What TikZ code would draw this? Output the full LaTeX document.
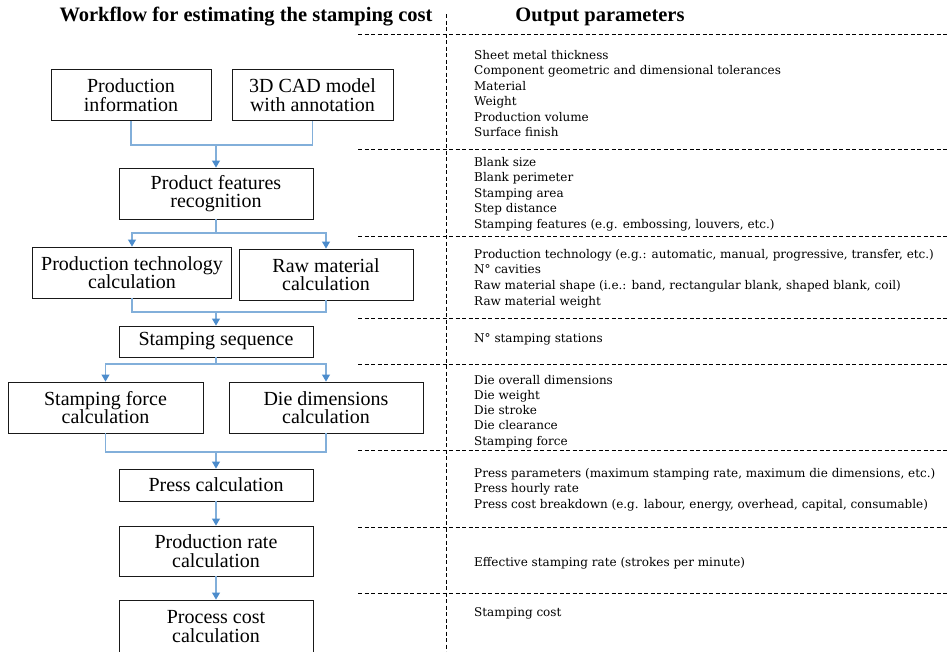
\documentclass[tikz,border=0pt]{standalone}
\usepackage{fontspec}
\setmainfont{Liberation Serif}
\newfontfamily\paramfamily{DejaVu Serif}
\usepackage{xcolor}
\definecolor{linkblue}{RGB}{130, 175, 218}
\definecolor{arrowblue}{RGB}{76, 140, 204}
\usetikzlibrary{arrows.meta, positioning, calc}
\newcommand\boxfont{\fontsize{20}{18.5}\selectfont}
\newcommand\paramfont{\paramfamily\fontsize{12}{15}\selectfont}
\newcommand\headfont{\bfseries\fontsize{20.5}{21}\selectfont}
\tikzset{
    procbox/.style={draw=black!90, line width=0.9pt, align=center, font=\boxfont,
        inner sep=0pt, minimum height=51pt},
    link/.style={draw=linkblue, line width=1.1pt},
    flow/.style={link, -{Triangle[length=7pt, width=8pt, color=arrowblue]}},
    sepline/.style={draw=black, line width=0.7pt, dash pattern=on 4pt off 2.5pt},
    param/.style={font=\paramfont, anchor=base west, inner sep=0pt, text=black}
}

\begin{document}
\begin{tikzpicture}[x=1pt, y=-1pt]
    \clip (0,0) rectangle (948,651);
    \fill[white] (0,0) rectangle (948,651);

    % Headings
    \node[font=\headfont, anchor=base] (wftitle) at (246,21) {Workflow for estimating the stamping cost};
    \node[font=\headfont, anchor=base] (optitle) at (600,21) {Output parameters};

    % Separators
    \draw[sepline] (446,14) -- (446,651);
    \foreach \yy in {34,149,236,318,364,450,527,593}
        \draw[sepline] (358,\yy) -- (948,\yy);

    % Workflow boxes
    \node[procbox, minimum width=160pt] (info) at (131,95) {Production\\information};
    \node[procbox, minimum width=161pt] (cad) at (312.5,95) {3D CAD model\\with annotation};
    \node[procbox, minimum width=194pt] (feat) at (216,193.5) {Product features\\recognition};
    \node[procbox, minimum width=199pt] (tech) at (132,272.5) {Production technology\\calculation};
    \node[procbox, minimum width=174pt] (raw) at (326,274.5) {Raw material\\calculation};
    \node[procbox, minimum width=194pt, minimum height=31pt] (seq) at (216,341.5) {Stamping sequence};
    \node[procbox, minimum width=195pt] (force) at (105.5,407.5) {Stamping force\\calculation};
    \node[procbox, minimum width=194pt] (die) at (326,407.5) {Die dimensions\\calculation};
    \node[procbox, minimum width=194pt, minimum height=32pt] (press) at (216,485) {Press calculation};
    \node[procbox, minimum width=194pt, minimum height=50pt] (rate) at (216,551) {Production rate\\calculation};
    \node[procbox, minimum width=194pt, minimum height=53pt] (cost) at (216,626.5) {Process cost\\calculation};

    % Junctions
    \coordinate (j1) at (216,145);
    \coordinate (j2) at (216,233);
    \coordinate (j3) at (216,312);
    \coordinate (j4) at (216,364);
    \coordinate (j5) at (216,452);

    % Connectors
    \draw[link] (info.south) |- (j1) -| (cad.south);
    \draw[flow] (j1) -- (feat.north);
    \draw[link] (feat.south) -- (j2);
    \draw[flow] (j2) -| (tech.north);
    \draw[flow] (j2) -| (raw.north);
    \draw[link] (tech.south) |- (j3) -| (raw.south);
    \draw[flow] (j3) -- (seq.north);
    \draw[link] (seq.south) -- (j4);
    \draw[flow] (j4) -| (force.north);
    \draw[flow] (j4) -| (die.north);
    \draw[link] (force.south) |- (j5) -| (die.south);
    \draw[flow] (j5) -- (press.north);
    \draw[flow] (press) -- (rate);
    \draw[flow] (rate) -- (cost);

    % Output parameters
    \foreach \txt [count=\k from 0] in {Sheet metal thickness,
        Component geometric and dimensional tolerances, Material, Weight,
        Production volume, Surface finish}
        \node[param] (pa\k) at (474,59+15.5*\k) {\txt};
    \foreach \txt [count=\k from 0] in {Blank size, Blank perimeter, Stamping area,
        Step distance, {Stamping features (e.g. embossing, louvers, etc.)}}
        \node[param] (pb\k) at (474,166+15.5*\k) {\txt};
    \foreach \txt [count=\k from 0] in {{Production technology (e.g.: automatic, manual, progressive, transfer, etc.)},
        N° cavities, {Raw material shape (i.e.: band, rectangular blank, shaped blank, coil)},
        Raw material weight}
        \node[param] (pc\k) at (474,258+15.7*\k) {\txt};
    \node[param] (pd0) at (474,342) {N° stamping stations};
    \foreach \txt [count=\k from 0] in {Die overall dimensions, Die weight, Die stroke,
        Die clearance, Stamping force}
        \node[param] (pe\k) at (474,384+15.3*\k) {\txt};
    \foreach \txt [count=\k from 0] in {{Press parameters (maximum stamping rate, maximum die dimensions, etc.)},
        Press hourly rate,
        {Press cost breakdown (e.g. labour, energy, overhead, capital, consumable)}}
        \node[param] (pf\k) at (474,477+15.5*\k) {\txt};
    \node[param] (pg0) at (474,566) {Effective stamping rate (strokes per minute)};
    \node[param] (ph0) at (474,616) {Stamping cost};
\end{tikzpicture}
\end{document}
